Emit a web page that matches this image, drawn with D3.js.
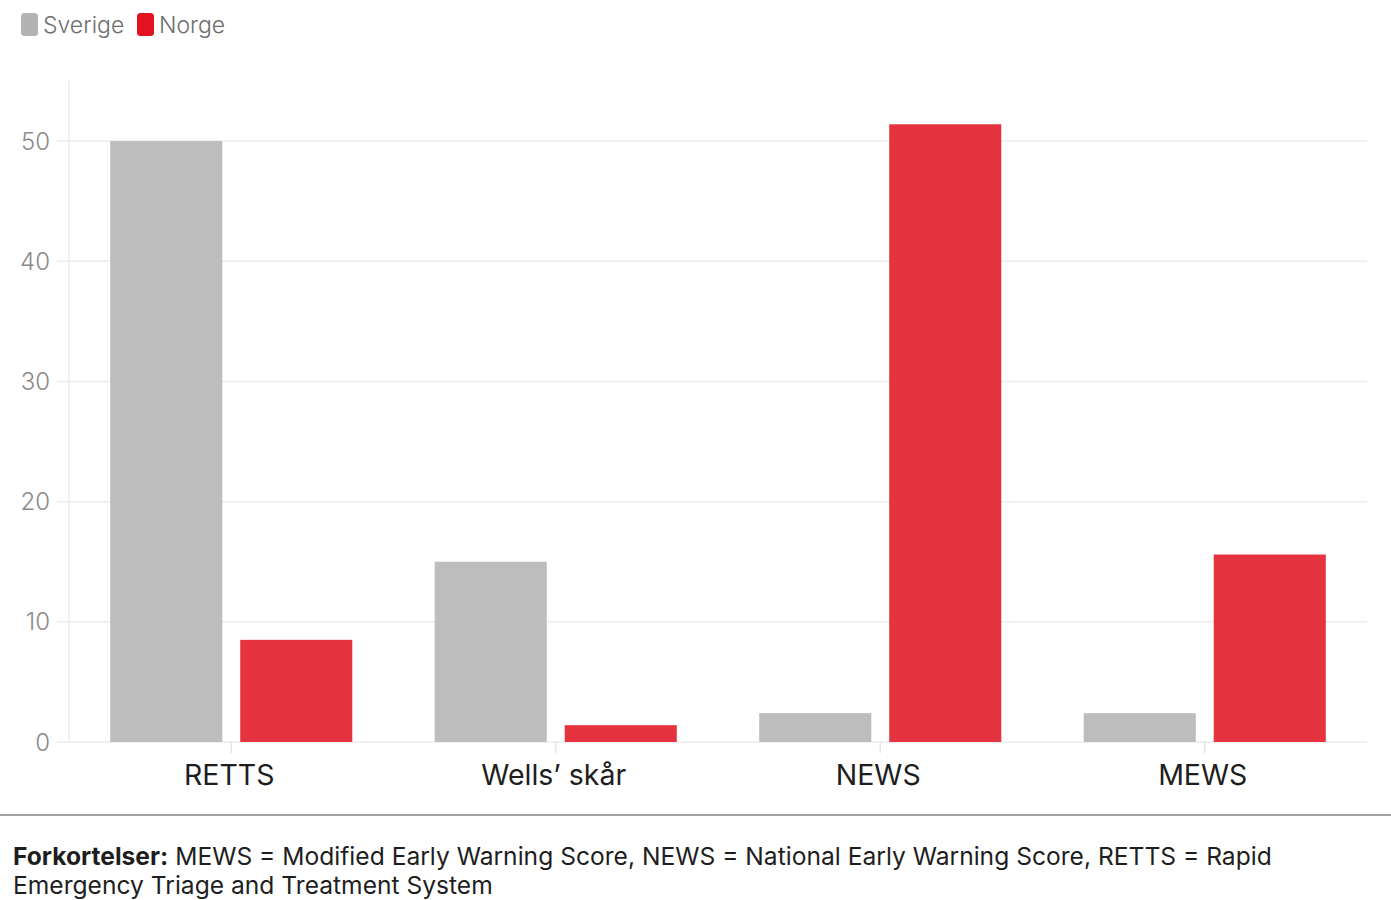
<!DOCTYPE html>
<html>
<head>
<meta charset="utf-8">
<script src="https://cdn.jsdelivr.net/npm/d3@7"></script>
<style>
  html, body { margin: 0; padding: 0; background: #fff; }
  svg { display: block; font-family: Inter, "Noto Sans", sans-serif; }
</style>
</head>
<body>
<svg id="chart" width="1391" height="900"></svg>
<script>
// Categories and values
const categories = ["RETTS", "Wells\u2019 skår", "NEWS", "MEWS"];
const seriesNames = ["Sverige", "Norge"];
const sverige = [50, 15, 2.4, 2.4];
const norge = [8.5, 1.4, 51.4, 15.6];
const yTicks = [0, 10, 20, 30, 40, 50];
const colors = { Sverige: "#bdbdbd", Norge: "#e5343f" };
const legendColors = { Sverige: "#b3b3b3", Norge: "#e3121f" };

const svg = d3.select("#chart");
const margin = { left: 69, right: 24, top: 81, bottom: 158 };
const W = 1391, H = 900;
const x0 = d3.scaleBand().domain(categories).range([margin.left, W - margin.right]).paddingInner(0.254).paddingOuter(0.127);
const x1 = d3.scaleBand().domain(seriesNames).range([0, x0.bandwidth()]).paddingInner(0.138);
const y = d3.scaleLinear().domain([0, 55]).range([H - margin.bottom, margin.top]);

// band centers for the full-step ticks
const xTick = d3.scaleBand().domain(categories).range([margin.left, W - margin.right]);

// horizontal grid
svg.append("g").selectAll("line").data(yTicks).join("line")
  .attr("x1", margin.left - 12).attr("x2", W - margin.right)
  .attr("y1", d => y(d)).attr("y2", d => y(d))
  .attr("stroke", "#ececec").attr("stroke-width", 1.5);

// left vertical line
svg.append("line")
  .attr("x1", margin.left).attr("x2", margin.left)
  .attr("y1", y(55)).attr("y2", y(0))
  .attr("stroke", "#ececec").attr("stroke-width", 1.5);

// y tick labels
svg.append("g").selectAll("text").data(yTicks).join("text")
  .attr("x", 50).attr("y", d => y(d)).attr("dy", "0.36em")
  .attr("text-anchor", "end")
  .attr("font-size", 24).attr("font-weight", 300).attr("fill", "#8a8a8a")
  .text(d => d);

// x ticks under axis
svg.append("g").selectAll("line").data(categories).join("line")
  .attr("x1", d => xTick(d) + xTick.bandwidth() / 2).attr("x2", d => xTick(d) + xTick.bandwidth() / 2)
  .attr("y1", y(0)).attr("y2", y(0) + 11)
  .attr("stroke", "#e6e6e6").attr("stroke-width", 1.5);

// bars
const rows = categories.map((c, i) => ({ cat: c, vals: [{ s: "Sverige", v: sverige[i] }, { s: "Norge", v: norge[i] }] }));
svg.append("g").selectAll("g").data(rows).join("g")
  .attr("transform", d => `translate(${x0(d.cat)},0)`)
  .selectAll("rect").data(d => d.vals).join("rect")
  .attr("x", d => x1(d.s)).attr("width", x1.bandwidth())
  .attr("y", d => y(d.v)).attr("height", d => y(0) - y(d.v))
  .attr("fill", d => colors[d.s]);

// x labels
svg.append("g").selectAll("text").data(categories).join("text")
  .attr("x", d => xTick(d) + xTick.bandwidth() / 2 - 2).attr("y", 785)
  .attr("text-anchor", "middle")
  .attr("font-size", 28.5).attr("fill", "#1e1e1e")
  .text(d => d);

// legend
const legend = svg.append("g");
const lx = [21, 137];
seriesNames.forEach((s, i) => {
  legend.append("rect").attr("x", lx[i]).attr("y", 13).attr("width", 17).attr("height", 23)
    .attr("rx", 3.5).attr("fill", legendColors[s]);
  legend.append("text").attr("x", lx[i] + 22).attr("y", 33)
    .attr("font-size", 23).attr("font-weight", 300).attr("fill", "#6e6e6e").text(s);
});

// separator line
svg.append("line").attr("x1", 0).attr("x2", W).attr("y1", 815).attr("y2", 815)
  .attr("stroke", "#a3a3a3").attr("stroke-width", 2);

// footnote
const note = svg.append("text").attr("x", 13).attr("y", 865).attr("font-size", 24.6).attr("fill", "#1e1e1e");
note.append("tspan").attr("font-weight", 700).text("Forkortelser:");
note.append("tspan").text(" MEWS = Modified Early Warning Score, NEWS = National Early Warning Score, RETTS = Rapid");
svg.append("text").attr("x", 13).attr("y", 894).attr("font-size", 24.6).attr("fill", "#1e1e1e")
  .text("Emergency Triage and Treatment System");
</script>
</body>
</html>
